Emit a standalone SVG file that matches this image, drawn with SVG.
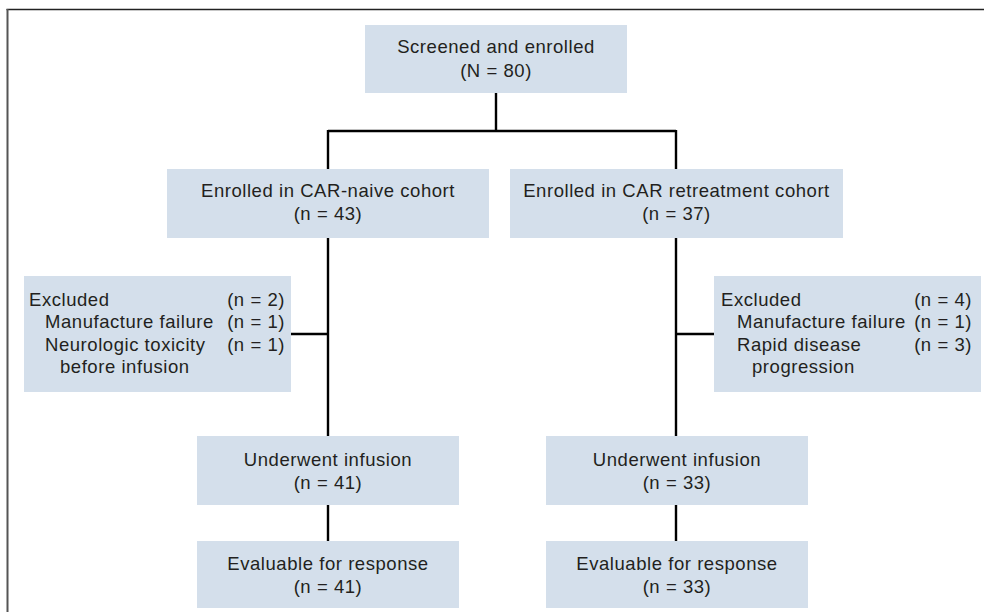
<svg xmlns="http://www.w3.org/2000/svg" width="984" height="612" viewBox="0 0 984 612">
<style>
.box{fill:#d4dfeb;stroke:none}
.t{font-family:"Liberation Sans",Arial,sans-serif;font-size:18.5px;letter-spacing:0.55px;fill:#231f20}
.c{text-anchor:middle}
.e{text-anchor:end}
.ln{stroke:#000;stroke-width:2.4;fill:none}
</style>
<rect width="984" height="612" fill="#fff"/>
<g id="frame">
<line x1="6.5" y1="9.5" x2="984" y2="9.5" stroke="#222" stroke-width="1.6"/>
<line x1="7.5" y1="9" x2="7.5" y2="612" stroke="#555" stroke-width="2"/>
</g>
<g id="connectors">
<path class="ln" d="M496,93 V131 M328,131 H676 M328,130 V169 M676,130 V169"/>
<path class="ln" d="M328,238 V436 M676,238 V436 M291,334 H328 M676,334 H714"/>
<path class="ln" d="M328,505 V541 M676,505 V541"/>
</g>
<g id="screened">
<rect class="box" x="365" y="25" width="262" height="68"/>
<text class="t c" x="496" y="53">Screened and enrolled</text>
<text class="t c" x="496" y="77">(N = 80)</text>
</g>
<g id="naive">
<rect class="box" x="167" y="169" width="322" height="69"/>
<text class="t c" x="328" y="197">Enrolled in CAR-naive cohort</text>
<text class="t c" x="328" y="220">(n = 43)</text>
</g>
<g id="retreat">
<rect class="box" x="510" y="169" width="333" height="69"/>
<text class="t c" x="676.5" y="197">Enrolled in CAR retreatment cohort</text>
<text class="t c" x="676.5" y="220">(n = 37)</text>
</g>
<g id="excluded-left">
<rect class="box" x="24" y="276" width="267" height="116"/>
<text class="t" x="29" y="306">Excluded</text>
<text class="t" x="45" y="328">Manufacture failure</text>
<text class="t" x="45" y="351">Neurologic toxicity</text>
<text class="t" x="60" y="373">before infusion</text>
<text class="t e" x="285" y="306">(n = 2)</text>
<text class="t e" x="285" y="328">(n = 1)</text>
<text class="t e" x="285" y="351">(n = 1)</text>
</g>
<g id="excluded-right">
<rect class="box" x="714" y="276" width="267" height="116"/>
<text class="t" x="721" y="306">Excluded</text>
<text class="t" x="737" y="328">Manufacture failure</text>
<text class="t" x="737" y="351">Rapid disease</text>
<text class="t" x="752" y="373">progression</text>
<text class="t e" x="972" y="306">(n = 4)</text>
<text class="t e" x="972" y="328">(n = 1)</text>
<text class="t e" x="972" y="351">(n = 3)</text>
</g>
<g id="infusion-left">
<rect class="box" x="197" y="436" width="262" height="69"/>
<text class="t c" x="328" y="466">Underwent infusion</text>
<text class="t c" x="328" y="489">(n = 41)</text>
</g>
<g id="infusion-right">
<rect class="box" x="546" y="436" width="262" height="69"/>
<text class="t c" x="677" y="466">Underwent infusion</text>
<text class="t c" x="677" y="489">(n = 33)</text>
</g>
<g id="eval-left">
<rect class="box" x="197" y="541" width="262" height="67"/>
<text class="t c" x="328" y="570">Evaluable for response</text>
<text class="t c" x="328" y="593">(n = 41)</text>
</g>
<g id="eval-right">
<rect class="box" x="546" y="541" width="262" height="67"/>
<text class="t c" x="677" y="570">Evaluable for response</text>
<text class="t c" x="677" y="593">(n = 33)</text>
</g>
</svg>
